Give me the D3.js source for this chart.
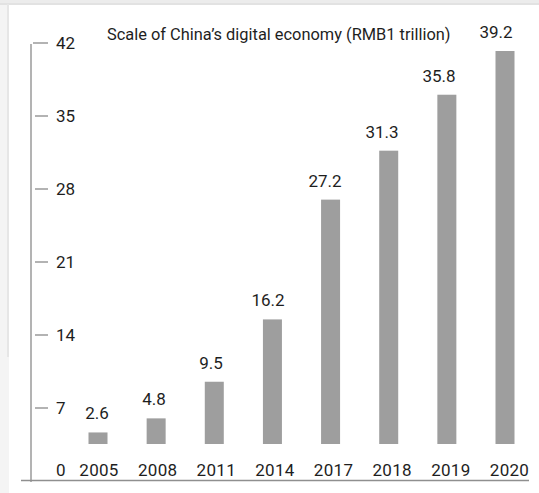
<!DOCTYPE html>
<html>
<head>
<meta charset="utf-8">
<script src="https://cdn.jsdelivr.net/npm/d3@7"></script>
<style>
  html, body { margin: 0; padding: 0; background: #fff; }
  text { font-family: Roboto, "Noto Sans", sans-serif; fill: #1e1e1e; }
</style>
</head>
<body>
<div id="chart"></div>
<script>
////
// DATA
////
const years = ["2005", "2008", "2011", "2014", "2017", "2018", "2019", "2020"];
const values = [2.6, 4.8, 9.5, 16.2, 27.2, 31.3, 35.8, 39.2];
const y_ticks = [7, 14, 21, 28, 35, 42];
const chart_title = "Scale of China\u2019s digital economy (RMB1 trillion)";

////
// CONTAINER
////
const width = 539, height = 493;

const svg = d3.select("#chart")
    .append("svg")
    .attr("width", width)
    .attr("height", height);

// card edge / shadow round the picture
const frame = svg.append("g");
frame.append("rect").attr("x", 0).attr("y", 0).attr("width", 10).attr("height", height).attr("fill", "#f4f4f4");
frame.append("rect").attr("x", 0).attr("y", 0).attr("width", width).attr("height", 5).attr("fill", "#ececec");
frame.append("rect").attr("x", 0).attr("y", 3).attr("width", width).attr("height", 2).attr("fill", "#e2e2e2");
frame.append("rect").attr("x", 7).attr("y", 4).attr("width", 2).attr("height", 353).attr("fill", "#e6e6e6");
frame.append("rect").attr("x", 9).attr("y", 5).attr("width", width - 9).attr("height", height - 5).attr("fill", "#fff");

// scales: axis ticks are linear, the bars in the original grow faster than linear
const axis_y = d3.scaleLinear().domain([0, 42]).range([481, 43]);
const bar_y = d3.scalePow().exponent(1.3).domain([0, d3.max(values)]).range([444, 51]);
const x = d3.scalePoint().domain(years).range([98, 505]);
// labels in the original sit on their own slightly different spacing
const x_val = d3.scalePoint().domain(years).range([97, 496]);
const x_year = d3.scalePoint().domain(years).range([99, 509.5]);
const bar_w = 19;

// axis lines
svg.append("line")
    .attr("x1", 31).attr("x2", 31)
    .attr("y1", axis_y(42) + 1).attr("y2", axis_y(0) + 1)
    .attr("stroke", "#9a9a9a").attr("stroke-width", 1.5);
svg.append("line")
    .attr("x1", 21).attr("x2", 529)
    .attr("y1", axis_y(0) - 0.5).attr("y2", axis_y(0) - 0.5)
    .attr("stroke", "#8f8f8f").attr("stroke-width", 1.5);

// tick marks and labels
const ticks = svg.selectAll(".ytick")
    .data(y_ticks)
    .enter()
    .append("g")
    .attr("class", "ytick")
    .attr("transform", d => `translate(0, ${axis_y(d)})`);

ticks.append("line")
    .attr("x1", d => d == 42 ? 33 : 35).attr("x2", 48)
    .attr("stroke", "#9a9a9a").attr("stroke-width", 1.5);

ticks.append("text")
    .attr("x", 56)
    .attr("dy", "0.35em")
    .style("font-size", "17px")
    .text(d => d);

svg.append("text")
    .attr("x", 56)
    .attr("y", 470)
    .attr("dy", "0.35em")
    .style("font-size", "17px")
    .text("0");

// bars
svg.selectAll(".bar")
    .data(values)
    .enter()
    .append("rect")
    .attr("class", "bar")
    .attr("x", (d, i) => x(years[i]) - bar_w / 2)
    .attr("y", d => bar_y(d))
    .attr("width", bar_w)
    .attr("height", d => bar_y(0) - bar_y(d))
    .attr("fill", "#9e9e9e");

// value labels
svg.selectAll(".val")
    .data(values)
    .enter()
    .append("text")
    .attr("class", "val")
    .attr("x", (d, i) => x_val(years[i]))
    .attr("y", d => bar_y(d) - 13)
    .attr("text-anchor", "middle")
    .style("font-size", "17px")
    .text(d => d.toFixed(1));

// year labels
svg.selectAll(".year")
    .data(years)
    .enter()
    .append("text")
    .attr("class", "year")
    .attr("x", d => x_year(d))
    .attr("y", 470)
    .attr("dy", "0.35em")
    .attr("text-anchor", "middle")
    .style("font-size", "17px")
    .style("letter-spacing", "0.3px")
    .text(d => d);

// title
svg.append("text")
    .attr("x", 107)
    .attr("y", 40)
    .style("font-size", "16.4px")
    .text(chart_title);
</script>
</body>
</html>
